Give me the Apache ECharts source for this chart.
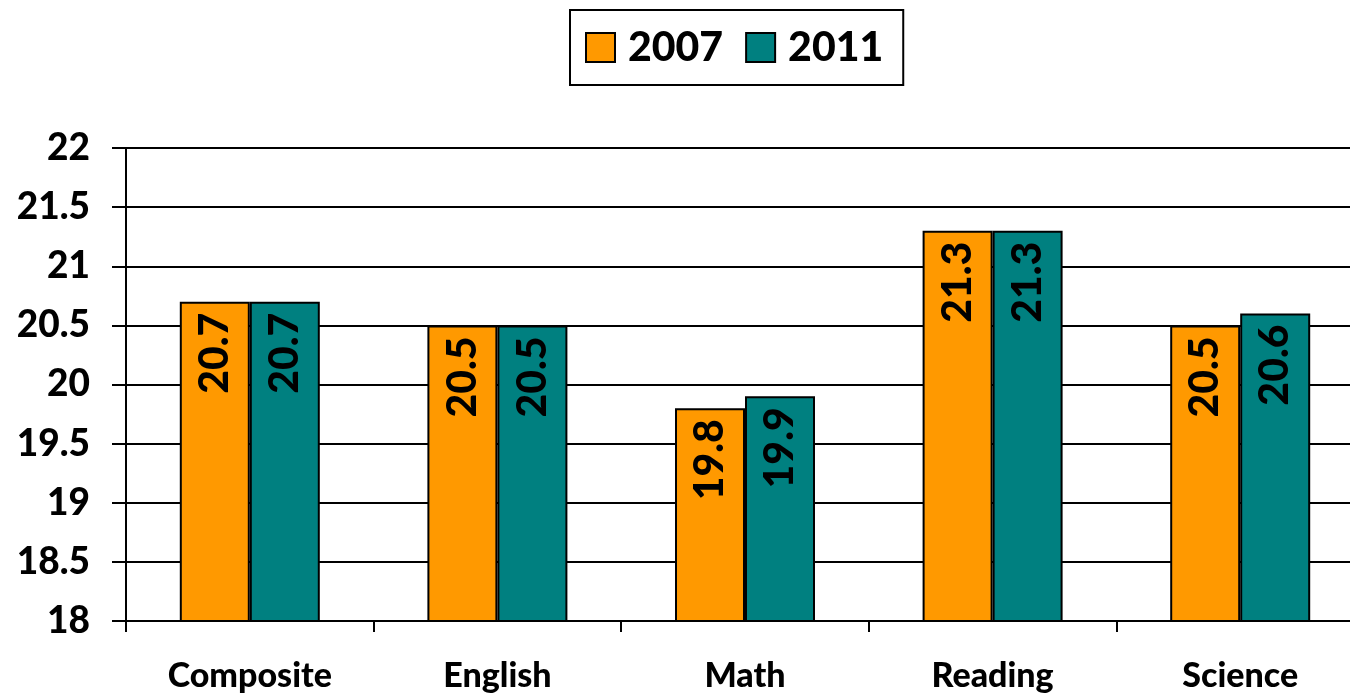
<!DOCTYPE html>
<html><head><meta charset="utf-8">
<script src="https://cdn.jsdelivr.net/npm/echarts@6/dist/echarts.min.js"></script>
<style>html,body{margin:0;padding:0;background:#fff;overflow:hidden;width:1350px;height:697px}#c{width:1364px;height:697px}</style>
</head><body><div id="c"></div>
<script>
const categories = ['Composite','English','Math','Reading','Science'];
const series2007 = [20.7, 20.5, 19.8, 21.3, 20.5];
const series2011 = [20.7, 20.5, 19.9, 21.3, 20.6];
const yTicks = [18, 18.5, 19, 19.5, 20, 20.5, 21, 21.5, 22];

const FONT = 'Lato';
const chart = echarts.init(document.getElementById('c'), null, {renderer:'canvas'});
const lbl = {
  show: true, position: 'insideTop', rotate: 90, align: 'right', verticalAlign: 'middle',
  distance: 11, color: '#000', fontFamily: FONT, fontWeight: 900, fontSize: 41,
  formatter: p => p.value.toFixed(1)
};
chart.setOption({
  animation: false,
  textStyle: {fontFamily: FONT},
  legend: {
    top: 10, left: 570,
    data: ['2007','2011'],
    borderColor: '#000', borderWidth: 2, padding: [17, 20, 17, 15],
    itemWidth: 29, itemHeight: 29, itemGap: 22,
    icon: 'rect',
    itemStyle: {borderColor: '#000', borderWidth: 2},
    textStyle: {fontFamily: FONT, fontWeight: 900, fontSize: 41, color: '#000', padding: [0,0,0,8]}
  },
  grid: {left: 126, right: 0, top: 148, bottom: 76, containLabel: false},
  xAxis: {
    type: 'category', data: categories,
    axisLine: {lineStyle: {color: '#000', width: 2}},
    axisTick: {show: true, length: 11, lineStyle: {color: '#000', width: 2}},
    axisLabel: {color: '#000', fontFamily: FONT, fontWeight: 900, fontSize: 34, margin: 38}
  },
  yAxis: {
    type: 'value', min: 18, max: 22, interval: 0.5,
    axisLine: {show: true, lineStyle: {color: '#000', width: 2}},
    axisTick: {show: true, length: 14, lineStyle: {color: '#000', width: 2}},
    splitLine: {lineStyle: {color: '#000', width: 2}},
    axisLabel: {color: '#000', fontFamily: FONT, fontWeight: 900, fontSize: 37, margin: 36,
      formatter: v => yTicks.includes(v) ? String(v) : ''}
  },
  series: [
    {name: '2007', type: 'bar', data: series2007, barWidth: 70, barGap: '0%',
     itemStyle: {color: '#FF9900', borderColor: '#000', borderWidth: 2}, label: lbl},
    {name: '2011', type: 'bar', data: series2011, barWidth: 70, barGap: '0%',
     itemStyle: {color: '#008080', borderColor: '#000', borderWidth: 2}, label: lbl}
  ]
});
</script></body></html>
